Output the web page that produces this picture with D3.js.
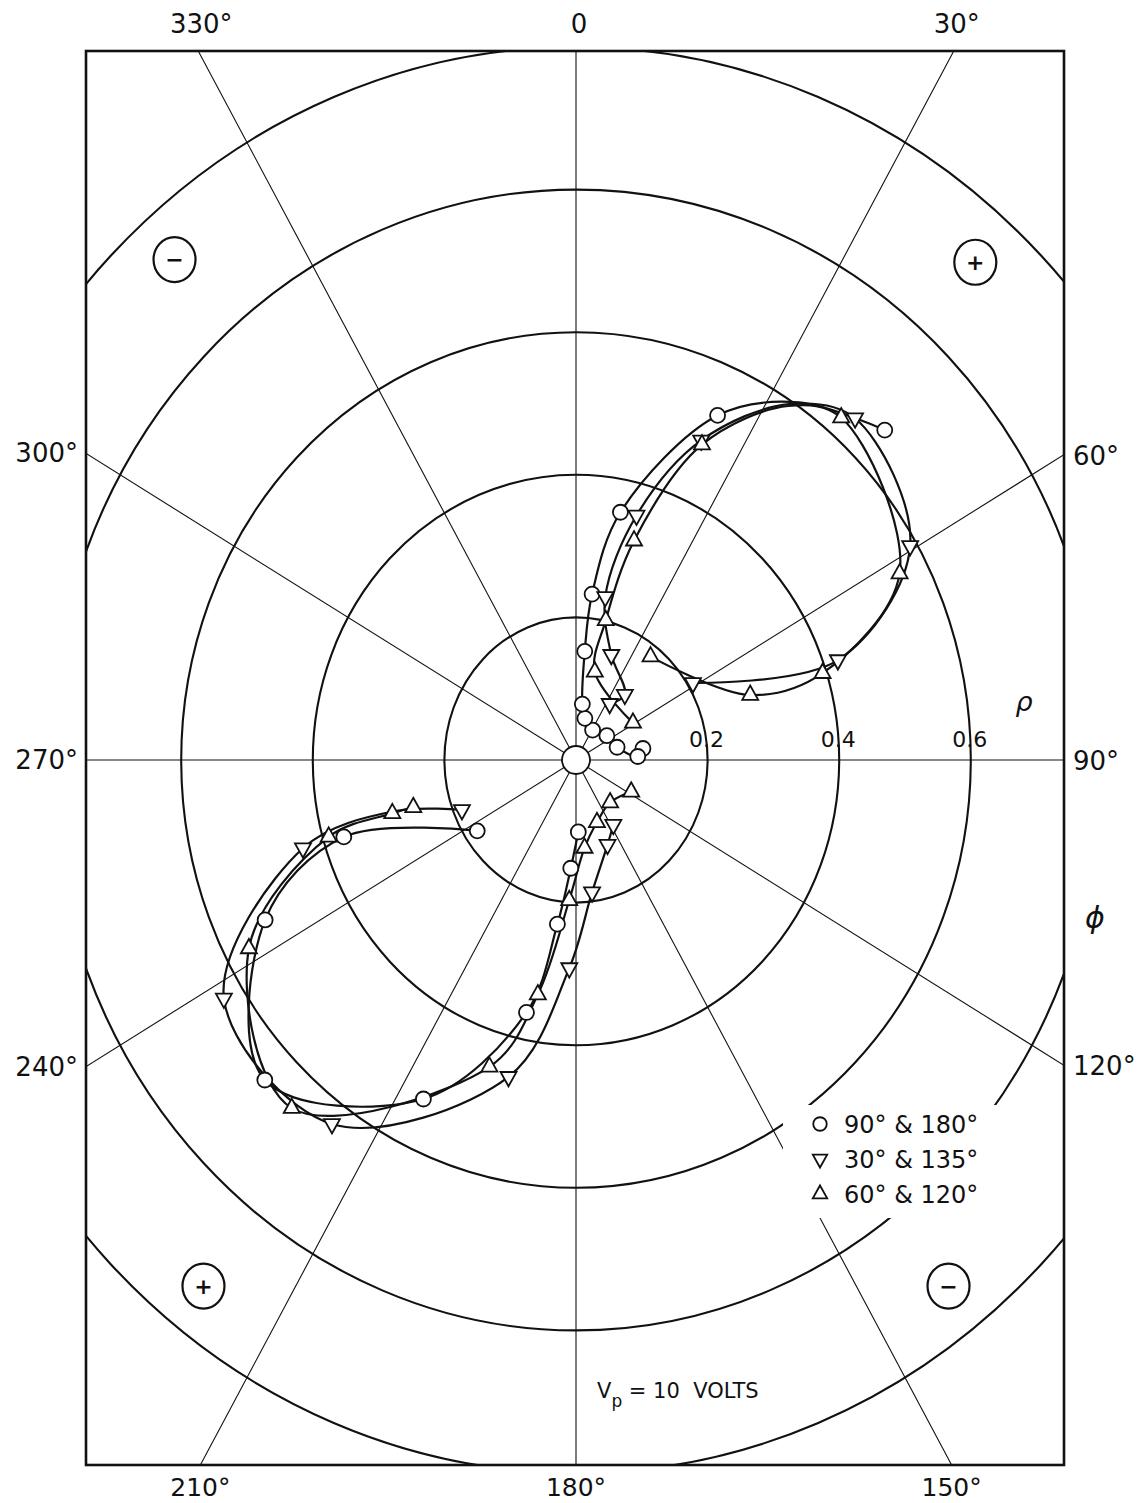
<!DOCTYPE html>
<html>
<head>
<meta charset="utf-8">
<script src="https://cdn.jsdelivr.net/npm/d3@7"></script>
<style>
  body { margin: 0; background: #fff; }
  svg { display: block; }
  text { font-family: "DejaVu Sans", sans-serif; fill: #111; }
</style>
</head>
<body>
<div id="chart"></div>
<script>
/**
 * Data
 */

// grid
const rings = [0.2, 0.4, 0.6, 0.8, 1.0]
const spokes = [0, 30, 60, 90, 120, 150, 180, 210, 240, 270, 300, 330]
const spokeLabels = ["0", "30°", "60°", "90°", "120°", "150°", "180°", "210°", "240°", "270°", "300°", "330°"]
const rhoTicks = [0.2, 0.4, 0.6]
const rhoTickLabels = ["0.2", "0.4", "0.6"]

// quadrant signs [phi, rho, sign]
const signs = [[319, 0.93, "−"], [41, 0.925, "+"], [217.5, 0.93, "+"], [142.5, 0.93, "−"]]

// series names
const seriesNames = ["90° & 180°", "30° & 135°", "60° & 120°"]

// points are [phi (deg), rho, marker drawn?]
// O  90° & 180°
const circleUpper = [[81, 0.103, 1], [87, 0.094, 1], [74, 0.065, 1], [54, 0.058, 1], [31, 0.049, 1], [13, 0.060, 1],
    [7, 0.079, 1], [5, 0.153, 1], [6, 0.234, 1], [11, 0.354, 1], [24, 0.529, 1], [34, 0.605, 0], [45.4, 0.659, 1]]
const circleLower = [[178, 0.101, 1], [183, 0.152, 1], [187, 0.232, 1], [192, 0.362, 1], [206, 0.529, 1],
    [226.5, 0.652, 1], [244.6, 0.523, 1], [253, 0.369, 1], [236.5, 0.180, 1]]

// V  30° & 135°
const downUpper = [[33, 0.094, 1], [39, 0.118, 1], [20, 0.157, 1], [11, 0.233, 1], [15, 0.355, 1], [23, 0.487, 1],
    [33, 0.595, 0], [41.5, 0.640, 1], [59.4, 0.590, 1], [70.6, 0.422, 1], [58.7, 0.208, 1]]
const downLower = [[148, 0.107, 1], [158, 0.128, 1], [172.5, 0.187, 1], [182, 0.292, 1], [193, 0.456, 1],
    [216, 0.631, 1], [238, 0.631, 1], [253.4, 0.433, 1], [255.4, 0.284, 0], [248, 0.187, 1]]

// A  60° & 120°
const upUpper = [[59, 0.101, 1], [13, 0.127, 1], [13, 0.201, 1], [16, 0.320, 1], [23.4, 0.482, 1], [33, 0.592, 0],
    [40, 0.627, 1], [62, 0.557, 1], [72, 0.394, 1], [71, 0.280, 1], [38, 0.184, 1]]
const upLower = [[118, 0.095, 1], [139, 0.079, 1], [160, 0.093, 1], [174, 0.124, 1], [183, 0.197, 1],
    [190, 0.334, 1], [197, 0.450, 1], [221.5, 0.652, 1], [242, 0.563, 1], [254, 0.391, 1], [255, 0.289, 1], [255, 0.256, 1]]

/**
 * Sizes
 */

const W = 1137, H = 1503
const frame = { left: 86, right: 1064, top: 51, bottom: 1465 }

const svg = d3.select("#chart")
    .append("svg")
        .attr("width", W)
        .attr("height", H)

// the original sheet is stretched a little vertically, so x and y scales differ
const x = d3.scaleLinear().domain([-1, 1]).range([576 - 658, 576 + 658])
const y = d3.scaleLinear().domain([-1, 1]).range([760 + 713, 760 - 713])

const rad = d => d * Math.PI / 180
const px = (phi, rho) => x(rho * Math.sin(rad(phi)))
const py = (phi, rho) => y(rho * Math.cos(rad(phi)))

svg.append("clipPath").attr("id", "clip")
    .append("rect")
        .attr("x", frame.left).attr("y", frame.top)
        .attr("width", frame.right - frame.left)
        .attr("height", frame.bottom - frame.top)

const plot = svg.append("g").attr("clip-path", "url(#clip)")

// spokes
plot.selectAll(".spoke")
    .data(spokes)
    .join("line")
        .attr("class", "spoke")
        .attr("x1", x(0)).attr("y1", y(0))
        .attr("x2", d => px(d, 1.8))
        .attr("y2", d => py(d, 1.8))
        .attr("stroke", "#111")
        .attr("stroke-width", 1.1)

// rings
plot.selectAll(".ring")
    .data(rings)
    .join("ellipse")
        .attr("class", "ring")
        .attr("cx", x(0)).attr("cy", y(0))
        .attr("rx", d => x(d) - x(0))
        .attr("ry", d => y(0) - y(d))
        .attr("fill", "none")
        .attr("stroke", "#111")
        .attr("stroke-width", 2.1)

// white patch behind the legend (grid is broken there on the sheet)
plot.append("rect")
    .attr("x", 783).attr("y", 1105)
    .attr("width", 215).attr("height", 113)
    .attr("fill", "#fff")

// center circle
plot.append("circle")
    .attr("cx", x(0)).attr("cy", y(0)).attr("r", 14)
    .attr("fill", "#fff").attr("stroke", "#111").attr("stroke-width", 1.8)

// quadrant signs
const sg = plot.selectAll(".sign").data(signs).join("g")
    .attr("transform", d => `translate(${px(d[0], d[1])},${py(d[0], d[1])})`)
sg.append("ellipse").attr("rx", 21).attr("ry", 22.5)
    .attr("fill", "#fff").attr("stroke", "#111").attr("stroke-width", 2.2)
sg.append("text")
    .attr("text-anchor", "middle")
    .attr("dy", "0.35em")
    .attr("font-size", 22)
    .attr("font-weight", "bold")
    .text(d => d[2])

// curves
const line = d3.line()
    .x(d => px(d[0], d[1]))
    .y(d => py(d[0], d[1]))
    .curve(d3.curveCatmullRom.alpha(0.5))

const series = [
    { shape: "circle", parts: [circleUpper, circleLower] },
    { shape: "down", parts: [downUpper, downLower] },
    { shape: "up", parts: [upUpper, upLower] }
]

series.forEach(s => s.parts.forEach(p => {
    plot.append("path")
        .attr("d", line(p))
        .attr("fill", "none")
        .attr("stroke", "#111")
        .attr("stroke-width", 2.2)
}))

function marker(g, shape, k) {
    if (shape === "circle") {
        g.append("circle").attr("r", 7.5 * k)
    } else {
        const s = shape === "up" ? 1 : -1
        g.append("path").attr("d",
            `M0,${-9.5 * s * k} L${8 * k},${4.8 * s * k} L${-8 * k},${4.8 * s * k} Z`)
    }
    g.selectAll("circle, path")
        .attr("fill", "#fff").attr("stroke", "#111").attr("stroke-width", 1.8)
}

series.forEach(s => s.parts.forEach(p => {
    p.filter(d => d[2]).forEach(d => {
        const g = plot.append("g").attr("transform", `translate(${px(d[0], d[1])},${py(d[0], d[1])})`)
        marker(g, s.shape, 1)
    })
}))

// frame
svg.append("rect")
    .attr("x", frame.left).attr("y", frame.top)
    .attr("width", frame.right - frame.left)
    .attr("height", frame.bottom - frame.top)
    .attr("fill", "none")
    .attr("stroke", "#111")
    .attr("stroke-width", 2.6)

/**
 * Angle labels outside the frame
 */

function hit(phi) {
    const x0 = x(0), y0 = y(0)
    const dx = px(phi, 1) - x0, dy = py(phi, 1) - y0
    let t = Infinity, side = null
    if (dx > 1e-6) { const tt = (frame.right - x0) / dx; if (tt < t) { t = tt; side = "right" } }
    if (dx < -1e-6) { const tt = (frame.left - x0) / dx; if (tt < t) { t = tt; side = "left" } }
    if (dy < -1e-6) { const tt = (frame.top - y0) / dy; if (tt < t) { t = tt; side = "top" } }
    if (dy > 1e-6) { const tt = (frame.bottom - y0) / dy; if (tt < t) { t = tt; side = "bottom" } }
    return { x: x0 + dx * t, y: y0 + dy * t, side }
}

spokes.forEach((phi, i) => {
    const h = hit(phi)
    const t = svg.append("text").attr("font-size", 26).text(spokeLabels[i])
    if (h.side === "top") t.attr("x", h.x + 3).attr("y", frame.top - 18).attr("text-anchor", "middle")
    if (h.side === "bottom") t.attr("x", h.x).attr("y", frame.bottom + 31).attr("font-size", 25).attr("text-anchor", "middle")
    if (h.side === "left") t.attr("x", frame.left - 8).attr("y", h.y + 9).attr("text-anchor", "end")
    if (h.side === "right") t.attr("x", frame.right + 9).attr("y", h.y + 10).attr("text-anchor", "start")
})

// rho tick labels on the 90 deg spoke
svg.selectAll(".rtick")
    .data(rhoTicks)
    .join("text")
        .attr("x", d => px(90, d) - 1)
        .attr("y", y(0) - 13)
        .attr("text-anchor", "middle")
        .attr("font-size", 22)
        .text((d, i) => rhoTickLabels[i])

svg.append("text")
    .attr("x", 1024).attr("y", 711)
    .attr("text-anchor", "middle")
    .attr("font-size", 27)
    .attr("font-style", "italic")
    .text("ρ")

svg.append("text")
    .attr("x", 1095).attr("y", 928)
    .attr("text-anchor", "middle")
    .attr("font-size", 30)
    .attr("font-style", "italic")
    .text("ϕ")

/**
 * Legend
 */

const leg = svg.append("g")
seriesNames.forEach((name, i) => {
    const yy = 1124 + i * 35
    const g = leg.append("g").attr("transform", `translate(820,${yy})`)
    marker(g, series[i].shape, 0.9)
    leg.append("text")
        .attr("x", 844).attr("y", yy + 8.5)
        .attr("font-size", 24)
        .text(name)
})

// plate voltage note
const vp = svg.append("text")
    .attr("x", 597).attr("y", 1398)
    .attr("font-size", 21)
vp.append("tspan").text("V")
vp.append("tspan").attr("font-size", 17).attr("dy", 9).text("p")
vp.append("tspan").attr("dy", -9).attr("xml:space", "preserve").text(" = 10  VOLTS")
</script>
</body>
</html>
